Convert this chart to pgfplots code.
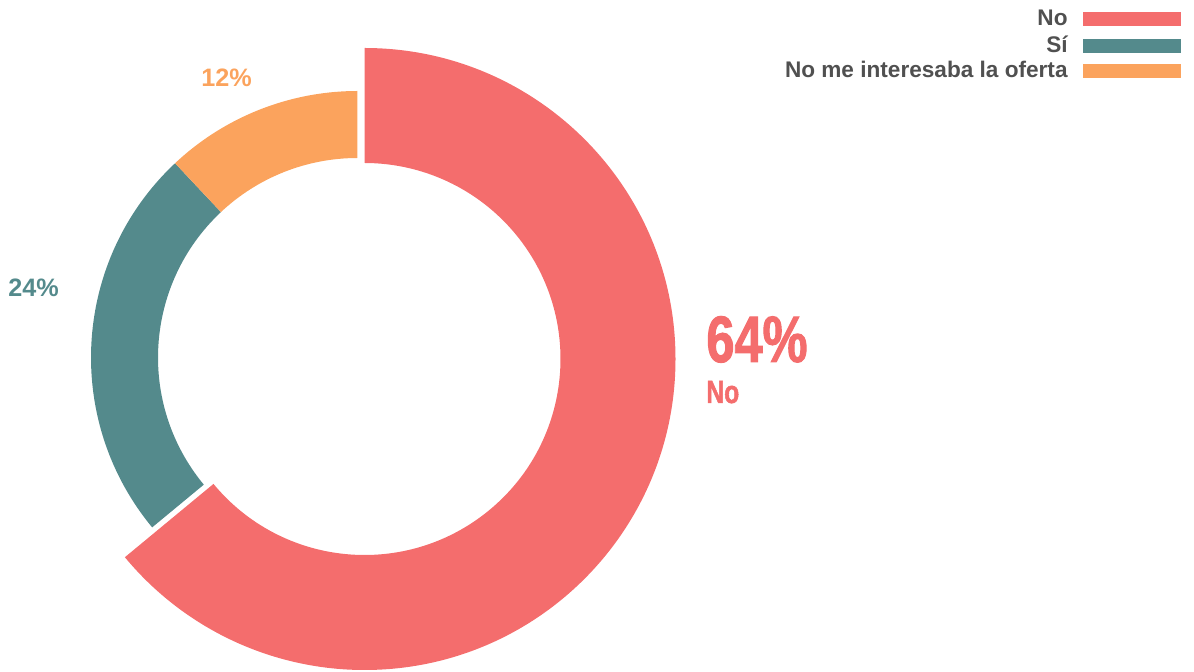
\documentclass[border=0pt]{standalone}
\usepackage{fontspec}
\setmainfont{Liberation Sans}
\newfontfamily\condfont{Liberation Sans}[FakeStretch=0.77,FakeBold=1.5]
\usepackage{pgfplots}
\usepackage{pgfplotstable}
\pgfplotsset{compat=1.18}
\definecolor{cNo}{HTML}{F46D6D}
\definecolor{cSi}{HTML}{548A8C}
\definecolor{cOf}{HTML}{FBA35D}
\definecolor{txt}{HTML}{505050}
\pgfplotstableread{
label value
No 64
Si 24
Oferta 12
}\piedata
\begin{document}
\begin{tikzpicture}
\pgfplotstablegetelem{0}{value}\of\piedata \let\vNo\pgfplotsretval
\pgfplotstablegetelem{1}{value}\of\piedata \let\vSi\pgfplotsretval
\pgfplotstablegetelem{2}{value}\of\piedata \let\vOf\pgfplotsretval
\pgfmathsetmacro\tot{\vNo+\vSi+\vOf}
\pgfmathsetmacro\aA{90}
\pgfmathsetmacro\aB{90-\vNo/\tot*360}
\pgfmathsetmacro\aC{\aB-\vSi/\tot*360}
\pgfmathsetmacro\aD{\aC-\vOf/\tot*360}
\begin{axis}[
  at={(0,0)}, anchor=south west,
  width=597pt, height=336pt, scale only axis,
  xmin=0, xmax=1194, ymin=0, ymax=672, y dir=reverse,
  hide axis, clip=false,
]
% No slice (exploded, larger)
\fill[cNo] ([shift={(\aA:155.5pt)}]axis cs:364.5,359) arc[start angle=\aA, end angle=\aB, radius=155.5pt]
  -- ([shift={(\aB:98pt)}]axis cs:364.5,359) arc[start angle=\aB, end angle=\aA, radius=98pt] -- cycle;
% Si slice
\fill[cSi] ([shift={(\aB:133.25pt)}]axis cs:357.5,357.5) arc[start angle=\aB, end angle=\aC, radius=133.25pt]
  -- ([shift={(\aC:99.75pt)}]axis cs:357.5,357.5) arc[start angle=\aC, end angle=\aB, radius=99.75pt] -- cycle;
% Oferta slice
\fill[cOf] ([shift={(\aC:133.25pt)}]axis cs:357.5,357.5) arc[start angle=\aC, end angle=\aD, radius=133.25pt]
  -- ([shift={(\aD:99.75pt)}]axis cs:357.5,357.5) arc[start angle=\aD, end angle=\aC, radius=99.75pt] -- cycle;
% labels
\node[anchor=base west, inner sep=0, text=cNo, font=\condfont\bfseries\fontsize{32.8}{36}\selectfont] at (axis cs:706,362) {64\%};
\node[anchor=base west, inner sep=0, text=cNo, font=\condfont\bfseries\fontsize{16}{18}\selectfont] at (axis cs:706,403) {No};
\node[anchor=base, inner sep=0, text=cSi, font=\bfseries\fontsize{12.6}{14}\selectfont] at (axis cs:33.5,297) {24\%};
\node[anchor=base, inner sep=0, text=cOf, font=\bfseries\fontsize{12.6}{14}\selectfont] at (axis cs:226.5,87) {12\%};
% legend
\fill[cNo] (axis cs:1083,12) rectangle (axis cs:1181,26);
\fill[cSi] (axis cs:1083,39) rectangle (axis cs:1181,53);
\fill[cOf] (axis cs:1083,64) rectangle (axis cs:1181,78);
\node[anchor=base east, inner sep=0, text=txt, font=\bfseries\fontsize{11.3}{13}\selectfont] at (axis cs:1068,26) {No};
\node[anchor=base east, inner sep=0, text=txt, font=\bfseries\fontsize{11.3}{13}\selectfont] at (axis cs:1068,53) {Sí};
\node[anchor=base east, inner sep=0, text=txt, font=\bfseries\fontsize{11.3}{13}\selectfont] at (axis cs:1068,78) {No me interesaba la oferta};
\end{axis}
\pgfresetboundingbox
\path (0,0) rectangle (597pt,336pt);
\end{tikzpicture}
\end{document}
